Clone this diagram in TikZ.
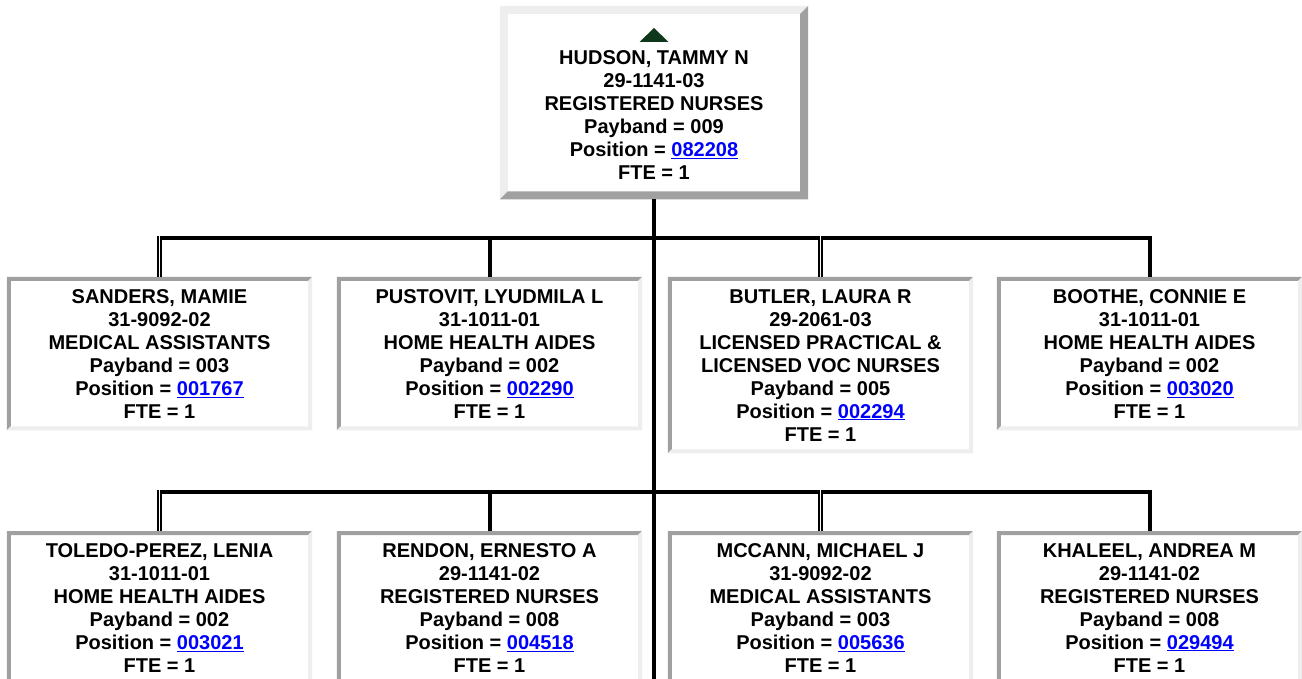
\documentclass[tikz,border=0pt]{standalone}
\usepackage{fontspec}
\setmainfont{Liberation Sans}
\usepackage{xcolor}

\definecolor{bevdark}{RGB}{160,160,160}
\definecolor{bevlight}{RGB}{238,238,238}
\definecolor{linkblue}{RGB}{0,0,255}
\definecolor{upgreen}{RGB}{14,56,28}

\newcommand{\poslink}[1]{\textcolor{linkblue}{\underline{#1}}}
% bevel round a box: node, top-left colour, bottom-right colour, width
\newcommand{\bevelframe}[4]{%
  \fill[#2] (#1.south west) -- (#1.north west) -- (#1.north east)
    -- ([xshift=-#4,yshift=-#4]#1.north east) -- ([xshift=#4,yshift=-#4]#1.north west)
    -- ([xshift=#4,yshift=#4]#1.south west) -- cycle;
  \fill[#3] (#1.south west) -- (#1.south east) -- (#1.north east)
    -- ([xshift=-#4,yshift=-#4]#1.north east) -- ([xshift=-#4,yshift=#4]#1.south east)
    -- ([xshift=#4,yshift=#4]#1.south west) -- cycle;
}

\tikzset{
  orgbox/.style={fill=white, anchor=north, inner sep=0pt, align=center,
    minimum width=305pt, minimum height=153pt,
    font=\bfseries\fontsize{20}{23}\selectfont},
  link/.style={line width=4pt},
  dlink/.style={double, line width=2pt, double distance=1.3pt},
}

\begin{document}
\begin{tikzpicture}[x=1pt, y=-1pt]
        \clip (0,0) rectangle (1302,679);
        \fill[white] (0,0) rectangle (1302,679);

        % Supervisor
        \node[orgbox, minimum width=308pt, minimum height=193pt] (hudson) at (654,6)
          {\strut\\HUDSON, TAMMY N\\29-1141-03\\REGISTERED NURSES\\Payband = 009\\Position = \poslink{082208}\\FTE = 1};
        \bevelframe{hudson}{bevlight}{bevdark}{8pt}
        \fill[upgreen] ([yshift=-22pt]hudson.north) -- ++(14.5,14) -- ++(-29,0) -- cycle;

        % First row
        \node[orgbox] (sanders) at (159.5,277)
          {SANDERS, MAMIE\\31-9092-02\\MEDICAL ASSISTANTS\\Payband = 003\\Position = \poslink{001767}\\FTE = 1};
        \node[orgbox] (pustovit) at (489.5,277)
          {PUSTOVIT, LYUDMILA L\\31-1011-01\\HOME HEALTH AIDES\\Payband = 002\\Position = \poslink{002290}\\FTE = 1};
        \node[orgbox, minimum height=176pt] (butler) at (820.5,277)
          {BUTLER, LAURA R\\29-2061-03\\LICENSED PRACTICAL \&\\LICENSED VOC NURSES\\Payband = 005\\Position = \poslink{002294}\\FTE = 1};
        \node[orgbox] (boothe) at (1149.5,277)
          {BOOTHE, CONNIE E\\31-1011-01\\HOME HEALTH AIDES\\Payband = 002\\Position = \poslink{003020}\\FTE = 1};

        % Second row
        \node[orgbox] (toledo) at (159.5,531)
          {TOLEDO-PEREZ, LENIA\\31-1011-01\\HOME HEALTH AIDES\\Payband = 002\\Position = \poslink{003021}\\FTE = 1};
        \node[orgbox] (rendon) at (489.5,531)
          {RENDON, ERNESTO A\\29-1141-02\\REGISTERED NURSES\\Payband = 008\\Position = \poslink{004518}\\FTE = 1};
        \node[orgbox] (mccann) at (820.5,531)
          {MCCANN, MICHAEL J\\31-9092-02\\MEDICAL ASSISTANTS\\Payband = 003\\Position = \poslink{005636}\\FTE = 1};
        \node[orgbox] (khaleel) at (1149.5,531)
          {KHALEEL, ANDREA M\\29-1141-02\\REGISTERED NURSES\\Payband = 008\\Position = \poslink{029494}\\FTE = 1};

        \foreach \n in {sanders,pustovit,butler,boothe,toledo,rendon,mccann,khaleel}
          {\bevelframe{\n}{bevdark}{bevlight}{4pt}}

        % Connectors
        \coordinate (bar1) at (654,238);
        \coordinate (bar2) at (654,492);
        \coordinate (trunkend) at (654,679);

        \draw[link] (sanders.north |- bar1) -- (boothe.north |- bar1);
        \draw[link] (toledo.north |- bar2) -- (khaleel.north |- bar2);

        \draw[dlink] (sanders.north) -- ([yshift=2pt]sanders.north |- bar1);
        \draw[link] (pustovit.north) -- ([yshift=2pt]pustovit.north |- bar1);
        \draw[dlink] (butler.north) -- ([yshift=2pt]butler.north |- bar1);
        \draw[link] (boothe.north) -- ([yshift=2pt]boothe.north |- bar1);

        \draw[dlink] (toledo.north) -- ([yshift=2pt]toledo.north |- bar2);
        \draw[link] (rendon.north) -- ([yshift=2pt]rendon.north |- bar2);
        \draw[dlink] (mccann.north) -- ([yshift=2pt]mccann.north |- bar2);
        \draw[link] (khaleel.north) -- ([yshift=2pt]khaleel.north |- bar2);

        \draw[link] (hudson.south) -- (trunkend);

    \end{tikzpicture}
\end{document}
